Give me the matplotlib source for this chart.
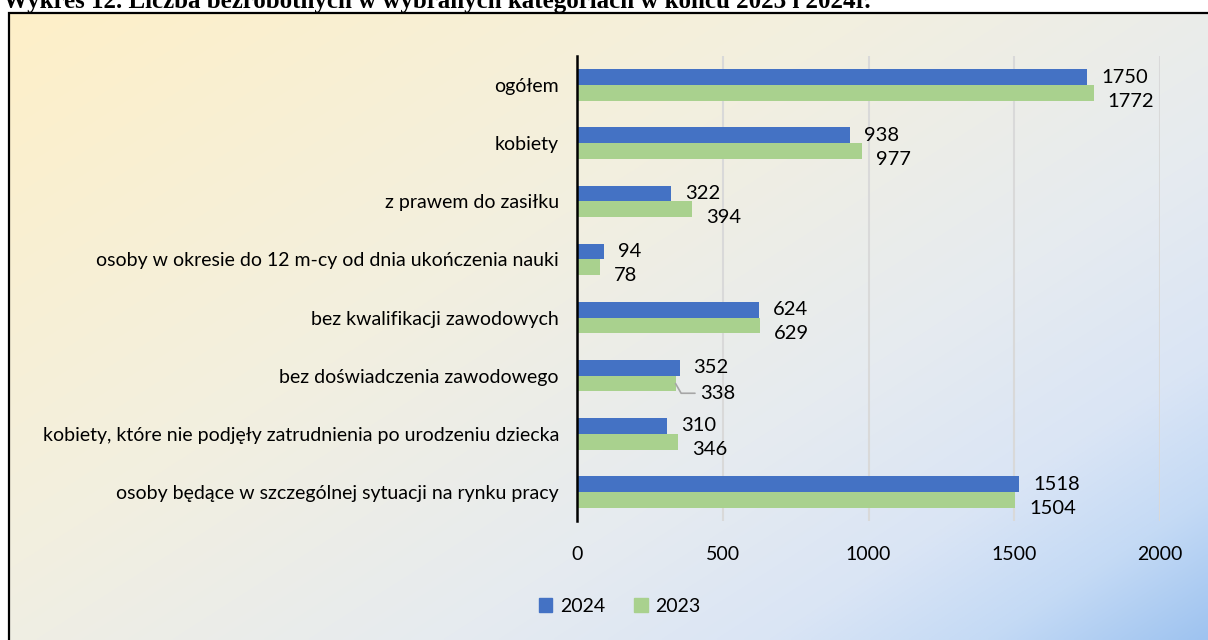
import numpy as np
import matplotlib.pyplot as plt
from matplotlib.patches import Rectangle, Patch

# Dane
kategorie = [
    'ogółem',
    'kobiety',
    'z prawem do zasiłku',
    'osoby w okresie do 12 m-cy od dnia ukończenia nauki',
    'bez kwalifikacji zawodowych',
    'bez doświadczenia zawodowego',
    'kobiety, które nie podjęły zatrudnienia po urodzeniu dziecka',
    'osoby będące w szczególnej sytuacji na rynku pracy',
]
lata = ['2024', '2023']
wart_2024 = [1750, 938, 322, 94, 624, 352, 310, 1518]
wart_2023 = [1772, 977, 394, 78, 629, 338, 346, 1504]
osie_x = [0, 500, 1000, 1500, 2000]

kolory = ['#4472C4', '#A9D18E']
czcionka = ['Lato', 'DejaVu Sans']

W, H = 1208, 640
fig = plt.figure(figsize=(W / 100, H / 100), dpi=100)
fig.patch.set_facecolor('white')

# Tło z gradientem
ax_bg = fig.add_axes([8 / W, 0, 1 - 8 / W, 1 - 12 / H])
ax_bg.set_zorder(-5)
gx, gy = np.meshgrid(np.linspace(0, 1, 300), np.linspace(0, 1, 200))
t = (gx * 0.55 + gy * 0.45)
stops = np.array([0.0, 0.4, 0.65, 0.8, 0.9, 1.0])
cols = np.array([
    [254, 240, 200],
    [242, 239, 224],
    [230, 235, 240],
    [218, 229, 245],
    [196, 218, 245],
    [158, 195, 240],
]) / 255
img = np.dstack([np.interp(t, stops, cols[:, k]) for k in range(3)])
ax_bg.imshow(img, aspect='auto', extent=[0, 1, 1, 0], interpolation='bilinear')
ax_bg.set_xlim(0, 1)
ax_bg.set_ylim(1, 0)
ax_bg.axis('off')
fig.patches.append(Rectangle((8.5 / W, -0.01), 1.1, 1 - 12.5 / H + 0.01,
                             transform=fig.transFigure, fill=False,
                             edgecolor='black', linewidth=1.6, zorder=10))

# Tytuł (przycięty u góry, jak w oryginale)
fig.text(3 / W, 1 - 8 / H, 'Wykres 12. Liczba bezrobotnych w wybranych kategoriach w końcu 2023 i 2024r.',
         fontfamily='Liberation Serif', fontweight='bold', fontsize=18, va='baseline', ha='left')

# Wykres
ax = fig.add_axes([577 / W, 1 - 521 / H, (1160 - 577) / W, (521 - 56) / H])
ax.set_facecolor('none')
y = np.arange(len(kategorie))
h = 0.27
ax.barh(y - h / 2, wart_2024, height=h, color=kolory[0], label=lata[0], zorder=3)
ax.barh(y + h / 2, wart_2023, height=h, color=kolory[1], label=lata[1], zorder=3)

ax.set_xlim(0, 2000)
ax.set_ylim(len(kategorie) - 0.5, -0.5)
ax.set_xticks(osie_x)
ax.set_xticklabels([str(v) for v in osie_x], fontfamily=czcionka, fontsize=14)
ax.set_yticks(y)
ax.set_yticklabels(kategorie, fontfamily=czcionka, fontsize=14)
ax.tick_params(axis='both', length=0, colors='black')
ax.tick_params(axis='x', pad=18)
ax.tick_params(axis='y', pad=13)
ax.grid(axis='x', color='#D9D9D9', linewidth=1.5, zorder=0)
for s in ['top', 'right', 'bottom']:
    ax.spines[s].set_visible(False)
ax.spines['left'].set_linewidth(1.8)
ax.spines['left'].set_zorder(4)

# Etykiety danych
for i, v in enumerate(wart_2024):
    ax.annotate(str(v), (v, y[i] - h / 2), xytext=(10, 0), textcoords='offset points',
                va='center', ha='left', fontfamily=czcionka, fontsize=14.5)
for i, v in enumerate(wart_2023):
    if kategorie[i] == 'bez doświadczenia zawodowego':
        ax.annotate(str(v), (v, y[i] + h / 2), xytext=(18, -7), textcoords='offset points',
                    va='center', ha='left', fontfamily=czcionka, fontsize=14.5,
                    arrowprops=dict(arrowstyle='-', color='#A6A6A6', lw=1.2,
                                    connectionstyle='angle,angleA=0,angleB=-60,rad=0',
                                    shrinkA=2, shrinkB=0))
    else:
        ax.annotate(str(v), (v, y[i] + h / 2), xytext=(10, -6), textcoords='offset points',
                    va='center', ha='left', fontfamily=czcionka, fontsize=14.5)

# Legenda
uchwyty = [Patch(color=kolory[0]), Patch(color=kolory[1])]
fig.legend(uchwyty, lata, loc='center', bbox_to_anchor=(0.513, 1 - 606 / H), ncol=2,
           frameon=False, prop={'family': czcionka, 'size': 14},
           handlelength=0.7, handleheight=0.7, handletextpad=0.4, columnspacing=1.5)

fig.savefig('out.png', dpi=100)
